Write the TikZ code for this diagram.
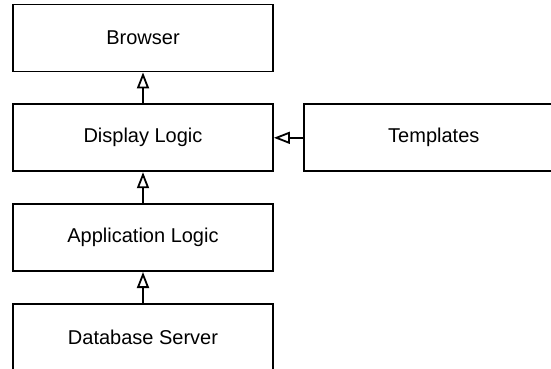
\documentclass[tikz,border=0pt]{standalone}
\usepackage{fontspec}
\setmainfont{Liberation Sans}
\usetikzlibrary{arrows.meta,positioning}

\begin{document}
\begin{tikzpicture}[
  x=1pt,y=1pt,
  node distance=31pt and 29pt,
  layer/.style={draw,line width=1.8pt,minimum width=260pt,minimum height=67pt,
    inner sep=0pt,font=\fontsize{20}{24}\selectfont},
  uses/.style={-{Triangle[open,length=16pt,width=12pt]},line width=1.8pt}
]
\useasboundingbox (0,0) rectangle (551,-369);
\node[layer] (browser) at (143,-38) {Browser};
\node[layer,below=of browser] (display) {Display Logic};
\node[layer,right=of display] (templates) {Templates};
\node[layer,below=of display] (app) {Application Logic};
\node[layer,below=of app] (db) {Database Server};
\draw[uses] (display) -- (browser);
\draw[uses] (templates) -- (display);
\draw[uses] (app) -- (display);
\draw[uses] (db) -- (app);
\end{tikzpicture}
\end{document}
